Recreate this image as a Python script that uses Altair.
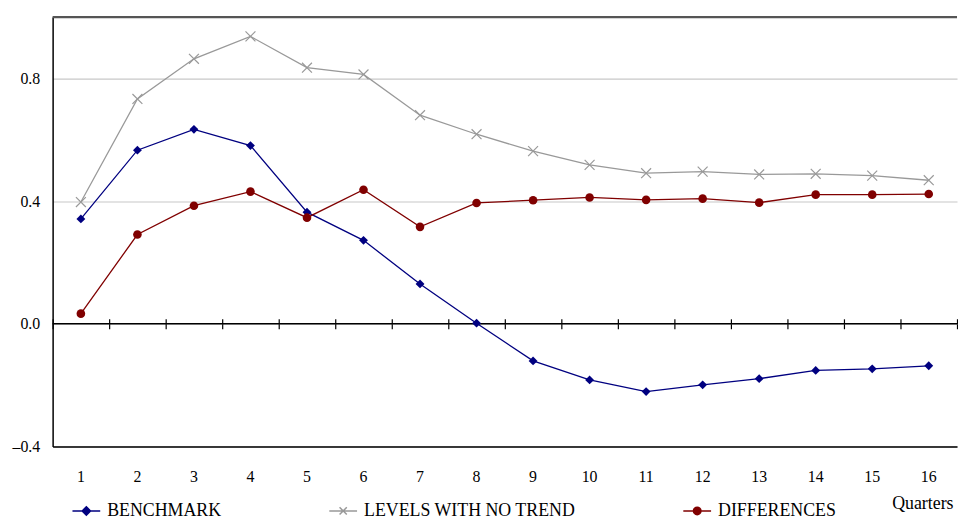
import altair as alt
import pandas as pd

# ---- data ----
quarters = list(range(1, 17))
benchmark = [0.342, 0.566, 0.634, 0.581, 0.364, 0.272, 0.130, 0.002,
             -0.121, -0.183, -0.221, -0.199, -0.179, -0.152, -0.147, -0.137]
levels = [0.397, 0.733, 0.864, 0.937, 0.835, 0.813, 0.680, 0.618,
          0.563, 0.518, 0.491, 0.496, 0.487, 0.489, 0.483, 0.468]
differences = [0.033, 0.291, 0.385, 0.431, 0.346, 0.437, 0.316, 0.394,
               0.403, 0.412, 0.404, 0.408, 0.395, 0.421, 0.421, 0.423]
series_names = ["BENCHMARK", "LEVELS WITH NO TREND", "DIFFERENCES"]
series_colors = ["#000080", "#999999", "#800000"]
y_ticks = [-0.4, 0.0, 0.4, 0.8]

legend_shapes = [
    "M-1,0L1,0M0,-0.3L0.3,0L0,0.3L-0.3,0Z",
    "M-1,0L1,0M-0.26,-0.26L0.26,0.26M-0.26,0.26L0.26,-0.26",
    "M-1,0L1,0M0.27,0A0.27,0.27,0,1,1,-0.27,0A0.27,0.27,0,1,1,0.27,0Z",
]

rows = []
for name, vals in zip(series_names, [benchmark, levels, differences]):
    for q, v in zip(quarters, vals):
        rows.append({"Quarter": q, "Series": name, "Value": v})
df = pd.DataFrame(rows)

FONT = "Liberation Serif, Times New Roman, serif"
W, H = 912, 433
Y_MIN, Y_MAX = -0.4, 1.0
ZERO_PX = H * Y_MAX / (Y_MAX - Y_MIN)

xscale = alt.Scale(type="band", paddingInner=0, paddingOuter=0)
yscale = alt.Scale(domain=[Y_MIN, Y_MAX], nice=False, zero=False)

y_axis = alt.Axis(title=None, values=y_ticks, ticks=False, labelPadding=13,
                  grid=True, gridColor="#c8c8c8", gridWidth=1.2,
                  domainColor="black", domainWidth=1.5,
                  labelFont=FONT, labelFontSize=16, labelColor="black",
                  labelExpr="datum.value < 0 ? '\u2013' + format(-datum.value, '.1f') : format(datum.value, '.1f')")

def yenc(field="Value"):
    return alt.Y(f"{field}:Q", scale=yscale, axis=y_axis)

main_x_axis = alt.Axis(title="Quarters", labelAngle=0, ticks=False, grid=False,
                       labelPadding=22, domainColor="black", domainWidth=1.5,
                       labelFont=FONT, labelFontSize=16, labelColor="black",
                       titleFont=FONT, titleFontSize=18, titleFontWeight="normal",
                       titleColor="black", titleAnchor="end", titleAlign="right",
                       titleX=W - 4, titleY=58, titleBaseline="middle")
axis_down = alt.Axis(title=None, labels=False, domain=False, grid=False, ticks=True,
                     tickBand="extent", tickSize=5, tickColor="black", tickWidth=1.2,
                     offset=ZERO_PX - H, orient="bottom")
axis_up = alt.Axis(title=None, labels=False, domain=False, grid=False, ticks=True,
                   tickBand="extent", tickSize=5, tickColor="black", tickWidth=1.2,
                   offset=-ZERO_PX, orient="top")

base = alt.Chart(df)

def xenc(axis):
    return alt.X("Quarter:O", scale=xscale, sort="ascending", axis=axis)

def series_line(name, color, axis):
    return base.transform_filter(alt.datum.Series == name).mark_line(
        color=color, strokeWidth=1.3).encode(x=xenc(axis), y=yenc())

def series_pts(name, color, shape, size, filled):
    return base.transform_filter(alt.datum.Series == name).mark_point(
        shape=shape, size=size, filled=filled, color=color, strokeWidth=1.2, opacity=1
    ).encode(x=xenc(None), y=yenc())

l_levels = series_line("LEVELS WITH NO TREND", series_colors[1], main_x_axis)
p_levels = series_pts("LEVELS WITH NO TREND", series_colors[1], "M-1,-1L1,1M-1,1L1,-1", 100, False)
l_bench = series_line("BENCHMARK", series_colors[0], axis_down)
p_bench = series_pts("BENCHMARK", series_colors[0], "diamond", 80, True)
l_diff = series_line("DIFFERENCES", series_colors[2], axis_up)
p_diff = series_pts("DIFFERENCES", series_colors[2], "circle", 75, True)

leg = alt.Legend(title=None, orient="none", legendX=19, legendY=483, direction="horizontal",
                 columnPadding=105, symbolSize=784, symbolStrokeWidth=1.5, symbolOpacity=1,
                 labelFont=FONT, labelFontSize=18, labelColor="black", labelOffset=6,
                 labelLimit=400)

legend_layer = base.mark_point(filled=True, opacity=0.001).encode(
    x=xenc(None),
    y=yenc(),
    fill=alt.Fill("Series:N", scale=alt.Scale(domain=series_names, range=series_colors), legend=leg),
    stroke=alt.Stroke("Series:N", scale=alt.Scale(domain=series_names, range=series_colors), legend=leg),
    shape=alt.Shape("Series:N", scale=alt.Scale(domain=series_names, range=legend_shapes), legend=leg),
)

zero_rule = alt.Chart(pd.DataFrame({"v": [0.0]})).mark_rule(color="black", strokeWidth=1.5).encode(
    y=yenc("v"))
top_rule = alt.Chart(pd.DataFrame({"v": [Y_MAX]})).mark_rule(color="#555555", strokeWidth=2.2).encode(
    y=yenc("v"))

chart = alt.layer(
    zero_rule, top_rule, l_levels, p_levels, l_bench, p_bench, l_diff, p_diff, legend_layer
).resolve_scale(x="independent").properties(
    width=W, height=H, autosize="none",
    padding={"left": 45, "top": 7, "right": 1, "bottom": 72},
    background="white",
).configure(font=FONT).configure_view(stroke=None).configure_axis(
    labelFont=FONT, titleFont=FONT
).configure_legend(labelFont=FONT)

chart.save("out.html", embed_options={"renderer": "svg", "actions": False})
